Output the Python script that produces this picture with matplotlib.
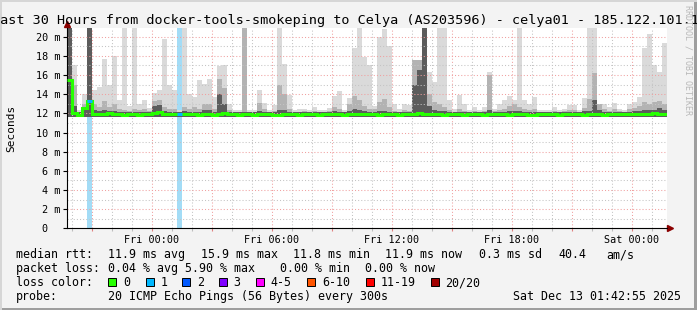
import numpy as np
import matplotlib
matplotlib.use('Agg')
import matplotlib.pyplot as plt
from matplotlib.patches import Rectangle

plt.rcParams['font.family'] = ['DejaVu Sans Mono']

W, H = 697, 310

# time axis: hours relative to Fri 00:00, 15 minute steps
t_start = -4.25
step = 0.25

# smoke tops (ms) per 15 min bin, light / medium / dark layers
smoke_light = [21, 17.0, 12.4, 14.0, 21, 14.4, 14.8, 17.7, 15.0, 18.0,
               13.4, 21, 12.8, 21, 13.0, 13.4, 12.6, 14.1, 14.4, 19.8,
               15.0, 14.4, 12.4, 21, 14.0, 13.7, 15.5, 15.1, 15.6, 13.7,
               16.9, 17.0, 13.0, 12.4, 12.4, 21, 12.4, 12.4, 14.4, 13.1,
               12.4, 12.9, 21, 17.2, 13.9, 12.4, 12.5, 12.5, 12.4, 12.7,
               12.4, 12.4, 12.6, 13.8, 14.3, 12.4, 13.6, 18.8, 21, 17.9,
               17.0, 12.8, 20.0, 20.8, 19.0, 13.0, 12.5, 13.0, 12.9, 17.6,
               17.6, 21, 16.3, 15.3, 21, 21, 13.4, 12.5, 13.9, 13.0,
               12.4, 12.7, 12.4, 12.7, 16.3, 12.5, 13.0, 13.4, 13.8, 13.4,
               21, 13.4, 13.0, 13.7, 12.4, 12.4, 12.4, 12.7, 12.4, 12.5,
               12.9, 12.9, 12.4, 13.6, 21, 21, 13.0, 13.0, 12.7, 13.1,
               12.5, 12.4, 13.0, 13.2, 13.7, 18.8, 20.3, 17.0, 16.3, 19.3]

smoke_mid = [21, 15.0, 12.15, 13.0, 21, 13.0, 12.7, 13.3, 12.7, 13.0,
             12.5, 12.4, 12.25, 12.5, 12.4, 12.5, 12.25, 13.3, 13.4, 12.7,
             12.5, 12.5, 12.15, 12.7, 12.5, 12.7, 12.5, 13.0, 13.0, 12.5,
             15.6, 14.6, 12.4, 12.15, 12.15, 21, 12.15, 12.15, 13.1, 12.5,
             12.15, 12.25, 15.0, 14.0, 12.5, 12.15, 12.15, 12.25, 12.15, 12.25,
             12.15, 12.15, 12.25, 12.7, 12.5, 12.15, 13.0, 13.8, 13.4, 12.8,
             12.5, 12.5, 13.2, 13.5, 12.7, 12.25, 12.15, 12.4, 12.25, 17.6,
             17.6, 21, 14.0, 13.2, 13.0, 12.7, 12.4, 12.15, 12.5, 12.25,
             12.15, 12.25, 12.15, 12.25, 16.0, 12.25, 12.4, 12.5, 12.8, 13.0,
             12.7, 12.5, 12.4, 12.5, 12.15, 12.15, 12.15, 12.25, 12.15, 12.25,
             12.4, 12.4, 12.15, 12.6, 13.5, 16.2, 13.0, 12.5, 12.25, 12.5,
             12.25, 12.15, 12.5, 12.6, 12.8, 13.2, 13.0, 13.2, 13.3, 13.0]

smoke_dark = [21, 12.8, 12.1, 12.4, 21, 12.3, 12.2, 12.3, 12.2, 12.2,
              12.1, 12.1, 12.1, 12.1, 12.1, 12.1, 12.1, 12.8, 12.9, 12.2,
              12.1, 12.1, 12.1, 12.2, 12.1, 12.1, 12.1, 12.3, 12.3, 12.1,
              14.0, 13.0, 12.1, 12.1, 12.1, 12.1, 12.1, 12.1, 12.2, 12.1,
              12.1, 12.1, 12.3, 12.3, 12.1, 12.1, 12.1, 12.1, 12.1, 12.1,
              12.1, 12.1, 12.1, 12.2, 12.1, 12.1, 12.2, 12.5, 12.4, 12.2,
              12.1, 12.1, 12.2, 12.2, 12.1, 12.1, 12.1, 12.1, 12.1, 15.0,
              16.5, 21, 12.8, 12.3, 12.2, 12.2, 12.1, 12.1, 12.1, 12.1,
              12.1, 12.1, 12.1, 12.1, 12.4, 12.1, 12.1, 12.1, 12.2, 12.2,
              12.2, 12.1, 12.1, 12.1, 12.1, 12.1, 12.1, 12.1, 12.1, 12.1,
              12.1, 12.1, 12.1, 12.2, 12.2, 13.4, 12.3, 12.1, 12.1, 12.1,
              12.1, 12.1, 12.1, 12.2, 12.2, 12.3, 12.3, 12.3, 12.6, 12.4]

median = [15.5, 12.0, 11.8, 12.6, 13.3, 11.9, 11.9, 11.9, 12.0, 11.9,
          11.9, 11.8, 11.9, 11.9, 11.8, 11.9, 11.9, 12.0, 12.1, 11.9,
          11.9, 11.9, 11.9, 11.9, 11.9, 11.9, 11.8, 11.9, 11.9, 11.8,
          11.9, 12.0, 11.9, 11.9, 11.8, 11.9, 11.9, 11.8, 11.9, 11.9,
          11.9, 11.8, 11.8, 11.9, 11.9, 11.9, 11.8, 11.9, 11.9, 11.9,
          11.8, 11.9, 11.9, 11.9, 11.9, 11.8, 11.9, 11.9, 11.9, 11.9,
          11.9, 11.9, 11.8, 11.9, 11.9, 11.9, 11.8, 11.9, 11.9, 11.9,
          12.0, 11.9, 11.9, 11.9, 11.9, 11.8, 11.9, 11.9, 11.9, 11.8,
          11.9, 11.9, 11.9, 11.8, 11.9, 11.9, 11.9, 11.9, 11.8, 11.9,
          11.9, 11.9, 11.8, 11.8, 11.9, 11.9, 11.9, 11.9, 11.8, 11.9,
          11.9, 11.9, 11.9, 11.8, 11.9, 11.9, 11.9, 11.8, 11.9, 11.9,
          11.9, 11.9, 11.9, 11.9, 11.9, 11.9, 11.9, 12.0, 11.9, 11.9]

smoke_floor = 11.6
loss_bins = [4, 22]     # bins with 1/20 lost

x_tick_hours = [-3, 0, 3, 6, 9, 12, 15, 18, 21, 24]
x_tick_labels = ['', 'Fri 00:00', '', 'Fri 06:00', '', 'Fri 12:00', '',
                 'Fri 18:00', '', 'Sat 00:00']
y_ticks = [0, 2, 4, 6, 8, 10, 12, 14, 16, 18, 20]
y_tick_labels = ['0  ', '2 m', '4 m', '6 m', '8 m', '10 m', '12 m', '14 m',
                 '16 m', '18 m', '20 m']

loss_names = ['0', '1', '2', '3', '4-5', '6-10', '11-19', '20/20']
loss_colors = ['#26ff00', '#00b8ff', '#0059ff', '#7e00ff', '#ff00ff',
               '#ff5500', '#ff0000', '#a10000']

title = 'Last 30 Hours from docker-tools-smokeping to Celya (AS203596) - celya01 - 185.122.101.16'


def fx(x):
    return x / W


def fy(y):
    return 1 - y / H


edges = t_start + step * np.arange(len(median) + 1)

fig = plt.figure(figsize=(W / 100, H / 100), dpi=100, facecolor='#f3f3f3')
ax = fig.add_axes([fx(67), fy(228.3), 600 / W, 200.6 / H])
ax.set_facecolor('white')

# loss background
for b in loss_bins:
    ax.axvspan(edges[b], edges[b + 1], color='#a3dcf6', lw=0, zorder=0.8)

# smoke
ax.stairs(smoke_light, edges, baseline=smoke_floor, fill=True, color='#dadada', lw=0, zorder=1)
ax.stairs(smoke_mid, edges, baseline=smoke_floor, fill=True, color='#b3b3b3', lw=0, zorder=1.1)
ax.stairs(smoke_dark, edges, baseline=smoke_floor, fill=True, color='#5c5c5c', lw=0, zorder=1.2)

# median line
ax.stairs(median, edges, baseline=None, color=loss_colors[0], lw=2.2, zorder=3)
for b in loss_bins:
    ax.hlines(median[b], edges[b], edges[b + 1], color=loss_colors[1], lw=2.2, zorder=3.1)

ax.set_xlim(edges[0], edges[-1])
ax.set_ylim(0, 20.94)

ax.set_xticks(x_tick_hours)
ax.set_xticklabels(x_tick_labels)
ax.set_xticks(np.arange(-4, 26, 1), minor=True)
ax.set_yticks(y_ticks)
ax.set_yticklabels(y_tick_labels)
ax.set_yticks(np.arange(1, 21, 2), minor=True)

ax.grid(which='major', color='#f0a0a0', linestyle=(0, (1, 2)), lw=0.75)
ax.grid(which='minor', color='#c4c4c4', linestyle=(0, (1, 2)), lw=0.75)

ax.tick_params(axis='x', which='major', length=2, width=0.8, color='#e08080',
               pad=2.5, labelsize=7.3)
ax.tick_params(axis='x', which='minor', length=2, width=0.8, color='#bdbdbd')
ax.tick_params(axis='y', which='major', length=3, width=0.8, color='black',
               pad=1.5, labelsize=7.3)
ax.tick_params(axis='y', which='minor', length=0)

for s in ['top', 'right']:
    ax.spines[s].set_visible(False)
for s in ['left', 'bottom']:
    ax.spines[s].set_linewidth(0.8)

# axis arrows
ax.plot(1.005, 0, marker='>', ms=4, color='#8b0000', transform=ax.transAxes, clip_on=False)
ax.plot(0, 1.018, marker='^', ms=4, color='#8b0000', transform=ax.transAxes, clip_on=False)

ax.set_ylabel('Seconds', fontsize=8)
ax.yaxis.set_label_coords((16 - 67) / 600, 0.5)

# title is wider than the image, its first letter falls off the left edge
fig.text(fx(-8), fy(24), title, ha='left', va='baseline', fontsize=9.7)
fig.text(fx(688), fy(60), 'RRDTOOL / TOBI OETIKER', rotation=270, ha='center',
         va='center', fontsize=6, color='#b8b8b8')

# legend
fs = 8.4
rows = [
    (258.3, [(16, 'median rtt:'), (108.3, '11.9 ms avg'), (200.7, '15.9 ms max'),
             (293.3, '11.8 ms min'), (385, '11.9 ms now'), (479.3, '0.3 ms sd'),
             (558.3, '40.4'), (606.7, 'am/s')]),
    (272.2, [(16, 'packet loss:'), (108.3, '0.04 % avg'), (185, '5.90 % max'),
             (280, '0.00 % min'), (365, '0.00 % now')]),
    (300.0, [(16, 'probe:'), (108.3, '20 ICMP Echo Pings (56 Bytes) every 300s'),
             (513.3, 'Sat Dec 13 01:42:55 2025')]),
]
for yb, items in rows:
    for x, s in items:
        fig.text(fx(x), fy(yb), s, ha='left', va='baseline', fontsize=fs)

fig.text(fx(16), fy(286.1), 'loss color:', ha='left', va='baseline', fontsize=fs)
box_x = [108.3, 145.7, 182.3, 219, 255.7, 307.3, 365.7, 430.7]
for bx, name, c in zip(box_x, loss_names, loss_colors):
    fig.add_artist(Rectangle((fx(bx), fy(286.3)), 8 / W, 8 / H, transform=fig.transFigure,
                             facecolor=c, edgecolor='black', lw=0.7))
    fig.text(fx(bx + 14.5), fy(286.1), name, ha='left', va='baseline', fontsize=fs)

# image frame
fig.add_artist(Rectangle((0, 0), 1, 2 / H, transform=fig.transFigure, color='#9e9e9e', lw=0))
fig.add_artist(Rectangle((1 - 3 / W, 0), 3 / W, 1, transform=fig.transFigure, color='#9e9e9e', lw=0))
fig.add_artist(Rectangle((0, 1 - 2 / H), 1, 2 / H, transform=fig.transFigure, color='#d6d6d6', lw=0))
fig.add_artist(Rectangle((0, 0), 2 / W, 1, transform=fig.transFigure, color='#d6d6d6', lw=0))

fig.savefig('out.png', dpi=100, facecolor=fig.get_facecolor())
